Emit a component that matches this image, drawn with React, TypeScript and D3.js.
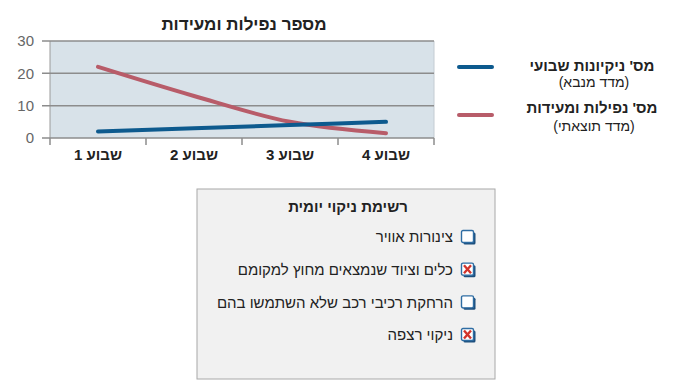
import React from 'react'
import * as d3 from 'd3'

const weeks = ['שבוע 1', 'שבוע 2', 'שבוע 3', 'שבוע 4']
const cleanings = [2, 3, 4, 5]
const falls = [22, 13, 5, 1.5]
const yTicks = [0, 10, 20, 30]
const seriesNames = ["מס' ניקיונות שבועי", "מס' נפילות ומעידות"]
const seriesNotes = ['(מדד מנבא)', '(מדד תוצאתי)']
const seriesColors = ['#0d5a8e', '#b85c69']
const checklistTitle = 'רשימת ניקוי יומית'
const checklistItems = ['צינורות אוויר', 'כלים וציוד שנמצאים מחוץ למקומם', 'הרחקת רכיבי רכב שלא השתמשו בהם', 'ניקוי רצפה']
const checklistDone = [false, true, false, true]

const FONT = '"Liberation Sans", Arial, sans-serif'

const Checkbox: React.FC<{ x: number; y: number; checked: boolean }> = ({ x, y, checked }) => (
    <g transform={`translate(${x},${y})`}>
        {/* 3D shadow on bottom-right */}
        <rect x={2.5} y={2.5} width={12} height={12} rx={1.5} fill="#1d4f7d" />
        <rect x={0.5} y={0.5} width={12} height={12} rx={1.5} fill="#fff" stroke="#2f6da3" strokeWidth={1.4} />
        {checked && (
            <g stroke="#d2342b" strokeWidth={2.4} strokeLinecap="butt">
                <line x1={3} y1={2.5} x2={10} y2={10.5} />
                <line x1={10} y1={2.5} x2={3} y2={10.5} />
            </g>
        )}
    </g>
)

export default function App() {
    const width = 700
    const height = 392
    const margin = { top: 41, right: 266, bottom: 254, left: 50 }

    const xScale = d3
        .scaleBand<string>()
        .domain(weeks)
        .range([margin.left, width - margin.right])

    const yScale = d3
        .scaleLinear()
        .domain([0, 30])
        .range([height - margin.bottom, margin.top])

    const line = d3
        .line<number>()
        .x((_, i) => xScale(weeks[i])! + xScale.bandwidth() / 2)
        .y((d) => yScale(d))
        .curve(d3.curveMonotoneX)

    const x0 = margin.left
    const x1 = width - margin.right
    const yBottom = yScale(0)
    const yTop = yScale(30)
    const boundaries = [...weeks.map((w) => xScale(w)!), x1]

    // checklist box layout
    const box = { x: 197, y: 189, w: 298, h: 190 }
    const itemY = d3.scalePoint<number>().domain(checklistItems.map((_, i) => i)).range([237, 335])

    return (
        <svg width={width} height={height} style={{ position: 'absolute', left: 0, top: 0, fontFamily: FONT }}>
            <rect width={width} height={height} fill="#fff" />

            {/* title */}
            <text x={244} y={30} textAnchor="middle" direction="rtl" fontSize={17} fontWeight="bold" fill="#222">
                מספר נפילות ומעידות
            </text>

            {/* plot area */}
            <rect x={x0} y={yTop} width={x1 - x0} height={yBottom - yTop} fill="#d8e2e9" />
            <line x1={x1} x2={x1} y1={yTop} y2={yBottom} stroke="#c4ccd2" strokeWidth={1} />
            <line x1={x0} x2={x0} y1={yTop} y2={yBottom} stroke="#9a9a9a" strokeWidth={1} />

            {yTicks.map((t) => (
                <g key={t}>
                    <line x1={x0 - 8} x2={x1} y1={yScale(t)} y2={yScale(t)} stroke="#8c8c8c" strokeWidth={1.5} />
                    <text x={34} y={yScale(t)} dy="0.35em" textAnchor="end" fontSize={15} fill="#666">
                        {t}
                    </text>
                </g>
            ))}

            {boundaries.map((b, i) => (
                <line key={i} x1={b} x2={b} y1={yBottom} y2={yBottom + 7} stroke="#8c8c8c" strokeWidth={1.5} />
            ))}

            {weeks.map((w) => (
                <text
                    key={w}
                    x={xScale(w)! + xScale.bandwidth() / 2}
                    y={160}
                    textAnchor="middle"
                    direction="rtl"
                    fontSize={15}
                    fontWeight="bold"
                    fill="#222"
                >
                    {w}
                </text>
            ))}

            {/* series */}
            <path d={line(falls)!} fill="none" stroke={seriesColors[1]} strokeWidth={4} strokeLinecap="round" />
            <path d={line(cleanings)!} fill="none" stroke={seriesColors[0]} strokeWidth={4} strokeLinecap="round" />

            {/* legend */}
            {seriesNames.map((name, i) => {
                const ly = [67, 115][i]
                return (
                    <g key={name}>
                        <line x1={459} x2={492} y1={ly} y2={ly} stroke={seriesColors[i]} strokeWidth={4} strokeLinecap="round" />
                        <text x={592} y={ly + 4 - (i ? 6 : 0)} textAnchor="middle" direction="rtl" fontSize={15} fontWeight="bold" fill="#222">
                            {name}
                        </text>
                        <text x={594} y={ly + 20 - (i ? 4 : 0)} textAnchor="middle" direction="rtl" fontSize={14} fill="#222">
                            {seriesNotes[i]}
                        </text>
                    </g>
                )
            })}

            {/* checklist */}
            <rect x={box.x} y={box.y} width={box.w} height={box.h} fill="#f1f1f1" stroke="#a8a8a8" strokeWidth={1} />
            <text x={348} y={212} textAnchor="middle" direction="rtl" fontSize={15} fontWeight="bold" fill="#222">
                {checklistTitle}
            </text>
            {checklistItems.map((item, i) => (
                <g key={item}>
                    <Checkbox x={461} y={itemY(i)! - 7} checked={checklistDone[i]} />
                    <text x={453} y={itemY(i)!} dy="0.35em" textAnchor="start" direction="rtl" fontSize={15} fill="#222">
                        {item}
                    </text>
                </g>
            ))}
        </svg>
    )
}
